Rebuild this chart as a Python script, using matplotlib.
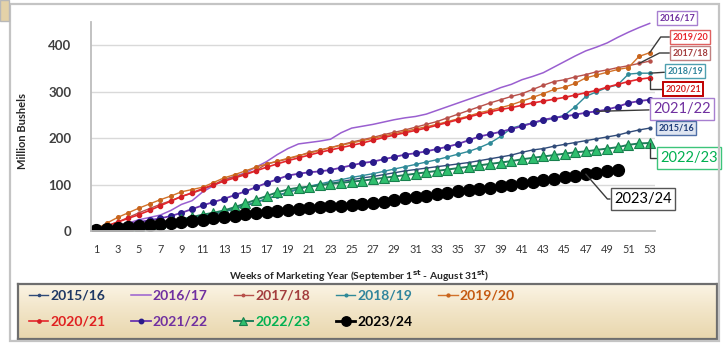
import numpy as np
import matplotlib
matplotlib.use("Agg")
import matplotlib.pyplot as plt
from matplotlib.patches import Rectangle
from matplotlib.colors import LinearSegmentedColormap

plt.rcParams['font.family'] = ['Lato', 'DejaVu Sans']

# ---- data: cumulative exports, million bushels, by marketing-year week ----
weeks = np.arange(1, 54)
weeks_2324 = np.arange(1, 51)

y2015_16 = [3, 5, 7, 9, 11, 14, 17, 20, 24, 28,
            32, 37, 42, 48, 55, 62, 70, 77, 84, 91,
            97, 100, 103, 107, 111, 115, 118, 122, 126, 130,
            133, 136, 139, 142, 145, 148, 152, 156, 160, 164,
            170, 175, 178, 183, 187, 191, 195, 199, 203, 207,
            213, 218, 222]
y2016_17 = [3, 7, 12, 18, 25, 30, 35, 45, 58, 66,
            85, 98, 110, 118, 126, 138, 150, 165, 178, 188,
            191, 194, 198, 212, 222, 226, 230, 235, 240, 244,
            247, 252, 260, 268, 276, 284, 292, 300, 309, 316,
            326, 333, 341, 353, 365, 377, 388, 396, 405, 417,
            428, 438, 447]
y2017_18 = [5, 12, 20, 30, 40, 49, 58, 66, 75, 82,
            90, 100, 112, 118, 124, 131, 145, 150, 156, 162,
            170, 175, 180, 186, 192, 197, 202, 208, 213, 218,
            224, 230, 236, 244, 252, 260, 268, 276, 283, 290,
            296, 305, 314, 322, 326, 332, 337, 343, 347, 352,
            356, 361, 366]
y2018_19 = [3, 5, 7, 9, 11, 14, 17, 21, 25, 29,
            33, 38, 43, 49, 56, 63, 70, 77, 84, 91,
            97, 102, 107, 111, 116, 120, 124, 129, 134, 139,
            144, 149, 154, 160, 166, 172, 180, 190, 204, 222,
            228, 233, 238, 243, 250, 268, 290, 300, 309, 315,
            338, 340, 340]
y2019_20 = [5, 18, 30, 40, 50, 59, 68, 76, 85, 90,
            95, 105, 115, 122, 130, 138, 145, 151, 157, 163,
            168, 174, 180, 185, 190, 195, 200, 205, 210, 215,
            220, 225, 230, 236, 242, 248, 255, 260, 266, 272,
            280, 288, 296, 305, 310, 318, 330, 336, 342, 348,
            352, 376, 384]
y2020_21 = [5, 12, 20, 28, 36, 45, 55, 65, 75, 83,
            92, 100, 108, 115, 122, 130, 138, 145, 152, 158,
            164, 170, 175, 180, 185, 190, 196, 202, 207, 212,
            217, 222, 228, 234, 240, 246, 252, 257, 262, 266,
            271, 276, 280, 284, 288, 293, 298, 303, 310, 316,
            322, 327, 330]
y2021_22 = [4, 8, 12, 16, 20, 24, 28, 33, 40, 48,
            56, 63, 70, 78, 86, 95, 104, 112, 120, 124,
            127, 129, 132, 137, 142, 147, 150, 155, 160, 165,
            168, 172, 177, 182, 188, 196, 204, 209, 214, 220,
            226, 233, 240, 244, 247, 251, 255, 258, 262, 268,
            276, 280, 283]
y2022_23 = [3, 5, 7, 9, 12, 15, 18, 22, 26, 31,
            36, 40, 45, 52, 60, 68, 76, 84, 90, 94,
            96, 99, 102, 104, 107, 109, 112, 115, 118, 121,
            124, 127, 130, 133, 136, 139, 142, 145, 148, 151,
            155, 158, 161, 164, 167, 170, 172, 175, 178, 181,
            186, 189, 190]
y2023_24 = [3, 6, 8, 10, 12, 14, 16, 18, 20, 23,
            25, 28, 31, 34, 37, 39, 42, 44, 46, 48,
            50, 52, 54, 55, 57, 58, 60, 63, 67, 71,
            75, 77, 80, 83, 86, 88, 91, 94, 97, 100,
            103, 106, 110, 113, 116, 119, 123, 126, 129, 131]

years = ['2015/16', '2016/17', '2017/18', '2018/19', '2019/20',
         '2020/21', '2021/22', '2022/23', '2023/24']
values = [y2015_16, y2016_17, y2017_18, y2018_19, y2019_20,
          y2020_21, y2021_22, y2022_23, y2023_24]
x_ticks = list(range(1, 54, 2))
y_ticks = [0, 100, 200, 300, 400]

# ---- styles ----
styles = {
    '2015/16': dict(color='#2f4a78', lw=1.0, marker='o', ms=2.0, mfc='#2f4a78', mec='#2f4a78'),
    '2016/17': dict(color='#9a5fd0', lw=1.1, marker=None),
    '2017/18': dict(color='#b8504a', lw=1.0, marker='o', ms=2.2, mfc='#b8504a', mec='#b8504a'),
    '2018/19': dict(color='#2f8a98', lw=1.0, marker='o', ms=2.4, mfc='#2f8a98', mec='#2f8a98'),
    '2019/20': dict(color='#d2722a', lw=1.0, marker='o', ms=2.6, mfc='#c8641c', mec='#c8641c'),
    '2020/21': dict(color='#e5262b', lw=1.2, marker='o', ms=3.0, mfc='#d41f24', mec='#d41f24'),
    '2021/22': dict(color='#6a34b0', lw=1.3, marker='o', ms=4.0, mfc='#2a1a8a', mec='#2a1a8a'),
    '2022/23': dict(color='#1e7d5a', lw=1.4, marker='^', ms=6.5, mfc='#2fbf6e', mec='#18804e', mew=0.8),
    '2023/24': dict(color='#000000', lw=2.0, marker='o', ms=8.5, mfc='#000000', mec='#000000'),
}
legend_text_colors = ['#1f3864', '#7030a0', '#a33d3d', '#31859c', '#c55a11',
                      '#e02020', '#7030a0', '#00b050', '#000000']

W, H = 723, 343
fig = plt.figure(figsize=(W / 100, H / 100), dpi=100)
fig.patch.set_facecolor('white')

# outer frame of the chart
fig.add_artist(Rectangle((10 / W, 2 / H), 709 / W, 337 / H, transform=fig.transFigure,
                         fill=False, edgecolor='#c4c4c4', lw=1.6))
fig.add_artist(Rectangle((0, 1 - 21 / H), 9 / W, 21 / H, transform=fig.transFigure,
                         facecolor='#e4d2a8', edgecolor='#b8b8b8', lw=1.0))

ax = fig.add_axes([91 / W, (H - 231.4) / H, 564 / W, 209.4 / H])
for yr, vals in zip(years, values):
    x = weeks_2324 if yr == '2023/24' else weeks
    ax.plot(x, vals, label=yr, **styles[yr])

ax.set_xlim(0.5, 53.5)
ax.set_ylim(0, 450)
ax.set_xticks(x_ticks)
ax.set_xticklabels([str(t) for t in x_ticks])
ax.set_yticks(y_ticks)
ax.tick_params(axis='both', length=0)
ax.tick_params(axis='x', labelsize=7.8, labelcolor='#383838', pad=9)
ax.tick_params(axis='y', labelsize=9.5, labelcolor='#404040', pad=14)
for lbl in ax.get_yticklabels():
    lbl.set_fontweight('bold')
ax.grid(axis='y', color='#d9d9d9', lw=1.0)
ax.set_axisbelow(True)
for side in ('top', 'right'):
    ax.spines[side].set_visible(False)
for side in ('left', 'bottom'):
    ax.spines[side].set_color('#bdbdbd')
    ax.spines[side].set_linewidth(1.3)

ax.set_ylabel('Million Bushels', fontsize=8, fontweight='bold', color='#262626')
ax.yaxis.set_label_coords(-0.112, 0.48)
ax.set_xlabel(r'Weeks of Marketing Year (September 1$^{\mathbf{st}}$ - August 31$^{\mathbf{st}}$)',
              fontsize=7.5, fontweight='bold', color='#262626')
ax.xaxis.set_label_coords(0.475, -0.175)

# ---- end-of-line year labels ----
def tag(text, xy, pos, tc, ec, fs=6.5, weight='bold', fc='white', conn=None, lw=1.0):
    kw = dict(xy=xy, xycoords='data', xytext=(pos[0], H - pos[1]), textcoords='figure pixels',
              ha='center', va='center', fontsize=fs, fontweight=weight, color=tc,
              bbox=dict(boxstyle='square,pad=0.25', fc=fc, ec=ec, lw=lw),
              annotation_clip=False, zorder=10)
    if conn is not None:
        kw['arrowprops'] = dict(arrowstyle='-', color='#3a3a3a', lw=1.0,
                                connectionstyle=conn, shrinkA=0, shrinkB=0)
    ax.annotate(text, **kw)

tag('2016/17', (53, y2016_17[-1]), (677, 18), '#7030a0', '#a77fd0')
tag('2019/20', (53, y2019_20[-1]), (690, 37), '#e8262b', '#e06060',
    conn='angle,angleA=0,angleB=55,rad=0')
tag('2017/18', (52, y2017_18[-2]), (690, 53), '#a33d3d', '#c08080',
    conn='angle,angleA=0,angleB=27,rad=0')
tag('2018/19', (53, y2018_19[-1]), (685, 71), '#31859c', '#4fa0b0', conn='arc3')
tag('2020/21', (53, y2020_21[-1]), (683, 89), '#d42020', '#c00000', lw=1.4,
    conn='angle,angleA=0,angleB=90,rad=0')
tag('2021/22', (48, y2021_22[47]), (682, 109), '#7030a0', '#a77fd0', fs=10.5,
    weight='normal', conn='arc3')
tag('2015/16', (53, y2015_16[-1]), (676, 128), '#1f3d7a', '#5070a8', fc='#dfe5f1')
tag('2022/23', (53, y2022_23[-1]), (689, 158), '#00b050', '#3cc47a', fs=10.5,
    weight='normal', conn='angle,angleA=0,angleB=90,rad=0')
tag('2023/24', (47, y2023_24[46]), (643, 199), '#000000', '#555555', fs=10.5,
    weight='normal', conn='angle,angleA=0,angleB=-49,rad=0')

# ---- legend on a tan gradient panel ----
lax = fig.add_axes([18 / W, (H - 339) / H, 699 / W, 55 / H], zorder=-1)
grad = np.linspace(0, 1, 64).reshape(-1, 1)
cmap = LinearSegmentedColormap.from_list('tan', ['#fbf4e4', '#f1e4c6', '#e9d7ae'])
lax.imshow(grad, aspect='auto', cmap=cmap, extent=(0, 1, 0, 1))
lax.set_xticks([])
lax.set_yticks([])
for sp in lax.spines.values():
    sp.set_color('#6e6e6e')
    sp.set_linewidth(1.6)

handles, labels = ax.get_legend_handles_labels()
# the legend fills column by column; order the entries so they read across rows
order = [0, 5, 1, 6, 2, 7, 3, 8, 4]
handles = [handles[i] for i in order]
labels = [labels[i] for i in order]
text_colors = [legend_text_colors[i] for i in order]
leg = fig.legend(handles, labels, ncol=5, loc='upper left',
                 bbox_to_anchor=(29 / W, (H - 290) / H), frameon=False,
                 prop=dict(family=['Lato', 'DejaVu Sans'], weight='bold', size=10),
                 handlelength=1.4, handletextpad=0.15, columnspacing=1.85,
                 labelspacing=1.0, borderpad=0, borderaxespad=0, markerscale=0.8)
for txt, c in zip(leg.get_texts(), text_colors):
    txt.set_color(c)

fig.savefig('out.png', dpi=100)
